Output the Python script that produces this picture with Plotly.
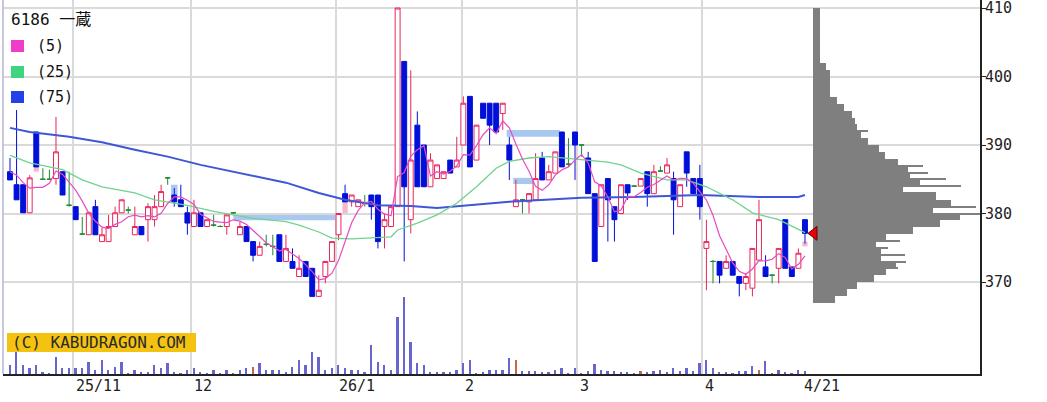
import plotly.graph_objects as go
import pandas as pd

# ---------------- data ----------------
title_text = "6186 一蔵"
ma_labels = ["(5)", "(25)", "(75)"]
tick_labels = ["25/11", "12", "26/1", "2", "3", "4", "4/21"]
tick_pos = [9.6, 27.6, 49.6, 68.8, 86.3, 105.3, 120.4]   # month starts (trading-day index)
price_ticks = [370, 380, 390, 400, 410]

open_ = [386.1, 384.2, 384.2, 380.1, 391.9, 385.0, 385.0, 385.1, 386.1, 381.2,
         381.0, 377.0, 376.9, 381.0, 375.9, 375.9, 378.1, 380.1, 380.5, 376.9,
         378.1, 379.1, 379.1, 381.0, 385.2, 382.7, 382.0, 380.1, 378.1, 380.1,
         378.1, 378.3, 378.1, 378.1, 380.1, 376.9, 378.1, 375.9, 373.9, 375.5,
         375.2, 376.9, 373.0, 373.0, 370.8, 373.0, 372.0, 367.9, 370.8, 373.0,
         376.9, 382.9, 381.7, 381.0, 381.5, 382.7, 382.7, 378.1, 378.1, 381.0,
         402.2, 379.1, 392.9, 390.0, 383.9, 385.1, 385.1, 387.8, 386.8, 390.0,
         397.1, 387.8, 396.1, 396.1, 396.1, 394.6, 390.0, 381.0, 382.0, 381.7,
         382.0, 388.1, 384.9, 385.9, 391.9, 387.2, 391.9, 390.0, 388.1, 382.9,
         378.1, 385.1, 381.0, 380.0, 384.2, 384.0, 384.0, 386.1, 382.9, 386.2,
         385.9, 385.1, 381.0, 389.0, 385.1, 385.1, 374.9, 373.0, 373.0, 372.0,
         373.0, 370.8, 369.8, 369.1, 373.2, 372.2, 371.0, 372.0, 379.1, 372.2,
         372.0, 379.1]
high = [388.1, 395.1, 384.2, 385.6, 391.9, 386.6, 386.4, 394.1, 386.1, 386.1,
        381.0, 379.5, 380.3, 382.0, 377.9, 379.8, 381.0, 382.0, 381.0, 381.0,
        378.1, 381.5, 382.7, 384.2, 385.2, 383.7, 384.2, 381.0, 382.0, 380.1,
        379.1, 379.8, 378.3, 379.8, 380.2, 378.8, 378.1, 375.9, 375.9, 376.9,
        376.9, 376.9, 376.9, 374.9, 373.9, 373.0, 372.0, 371.0, 373.0, 375.9,
        380.0, 384.2, 382.7, 382.0, 382.7, 382.7, 382.7, 380.0, 381.0, 410.0,
        402.2, 400.9, 394.9, 390.0, 388.8, 387.1, 386.1, 387.8, 391.2, 397.1,
        397.1, 392.9, 396.1, 396.1, 396.1, 396.1, 391.2, 384.9, 382.0, 382.9,
        388.8, 389.0, 387.1, 389.0, 391.9, 391.0, 391.9, 390.0, 389.0, 382.9,
        384.2, 385.1, 381.0, 384.2, 384.2, 384.1, 385.1, 386.1, 387.1, 386.9,
        388.1, 386.1, 384.2, 389.0, 385.1, 387.1, 379.1, 373.2, 373.0, 373.9,
        373.0, 370.8, 371.3, 374.9, 382.0, 373.9, 371.0, 374.9, 379.1, 372.2,
        374.9, 379.1]
low = [384.9, 382.0, 380.1, 380.1, 386.8, 384.9, 384.9, 384.2, 382.7, 381.0,
       379.1, 376.9, 376.9, 376.9, 375.9, 375.9, 378.1, 380.1, 380.0, 376.9,
       376.9, 375.9, 378.1, 381.0, 384.2, 381.0, 381.0, 376.9, 378.1, 378.1,
       378.1, 378.1, 378.0, 376.9, 380.0, 376.9, 375.9, 373.0, 373.9, 375.2,
       373.9, 373.0, 373.0, 372.0, 370.8, 370.8, 367.9, 367.9, 369.8, 373.0,
       376.1, 381.7, 381.0, 381.0, 381.0, 379.1, 374.9, 374.9, 378.1, 381.0,
       373.0, 377.1, 383.9, 383.9, 383.9, 385.1, 385.1, 385.9, 386.8, 390.0,
       386.8, 387.8, 393.9, 390.0, 391.9, 392.2, 384.9, 381.0, 380.0, 380.0,
       382.0, 384.9, 384.9, 385.9, 386.8, 386.8, 384.9, 388.3, 382.9, 373.0,
       378.1, 375.9, 375.9, 379.9, 382.0, 383.9, 384.0, 381.0, 382.9, 386.1,
       385.9, 376.9, 381.0, 383.9, 382.9, 379.1, 368.8, 369.8, 369.8, 372.0,
       371.0, 367.9, 368.8, 367.9, 373.2, 370.8, 369.8, 369.8, 372.0, 370.8,
       372.0, 375.6]
close = [384.9, 382.0, 380.1, 385.2, 386.8, 385.0, 385.0, 389.0, 382.7, 381.2,
         379.1, 377.0, 380.1, 376.9, 376.9, 378.1, 380.1, 382.0, 380.5, 378.1,
         376.9, 381.0, 381.0, 383.2, 385.2, 381.7, 381.0, 378.6, 380.1, 378.1,
         379.1, 378.3, 378.1, 379.8, 380.1, 378.1, 375.9, 373.9, 375.2, 375.5,
         375.2, 373.0, 374.9, 372.0, 372.0, 370.8, 367.9, 368.8, 373.0, 375.9,
         380.0, 381.7, 382.7, 382.0, 381.5, 381.0, 375.9, 379.1, 381.0, 410.0,
         383.9, 387.8, 383.9, 383.9, 387.8, 387.1, 386.1, 385.9, 387.8, 396.1,
         386.8, 392.9, 393.9, 392.9, 391.9, 396.1, 387.8, 382.0, 382.0, 382.9,
         385.1, 384.9, 386.1, 389.0, 386.8, 387.2, 390.0, 390.0, 382.9, 373.0,
         384.2, 382.0, 379.1, 384.2, 383.0, 384.0, 385.1, 382.9, 386.1, 386.2,
         387.1, 382.0, 384.2, 385.9, 382.9, 381.0, 375.9, 373.0, 371.0, 373.0,
         371.0, 369.8, 370.8, 374.9, 379.1, 370.8, 371.0, 374.9, 372.0, 370.8,
         374.2, 377.1]
volume = [90, 220, 90, 60, 90, 20, 10, 170, 60, 60,
          60, 60, 120, 40, 140, 40, 70, 120, 10, 40,
          20, 20, 90, 60, 110, 20, 10, 40, 60, 20,
          10, 40, 10, 40, 10, 40, 60, 70, 110, 40,
          40, 40, 20, 70, 140, 90, 220, 170, 40, 60,
          90, 60, 40, 40, 20, 290, 120, 90, 40, 570,
          770, 320, 110, 90, 20, 20, 20, 20, 40, 110,
          140, 10, 20, 40, 40, 40, 160, 140, 30, 30,
          30, 20, 20, 40, 60, 10, 60, 10, 30, 100,
          40, 30, 30, 20, 20, 10, 30, 20, 30, 40,
          20, 60, 30, 60, 30, 110, 140, 60, 20, 20,
          10, 30, 30, 80, 40, 130, 10, 40, 20, 10,
          40, 30]
red_volume_idx = [37, 77, 96, 114]

ma5_head = [386.1, 385.6, 384.5, 383.7]
ma25_idx = [0, 3, 8, 11, 14, 19, 22, 27, 31, 34, 37, 42, 44, 47, 49, 52, 58, 59, 62, 65,
            68, 71, 74, 76, 79, 82, 87, 91, 93, 96, 100, 103, 106, 110, 113, 117, 121]
ma25_val = [388.5, 387.4, 386.4, 384.9, 383.9, 383.0, 382.0, 381.2, 380.3, 379.8, 379.3, 378.8,
            378.3, 377.3, 376.4, 376.3, 376.6, 377.6, 378.6, 379.8, 381.5, 383.9, 386.6, 387.6,
            388.1, 388.3, 387.8, 387.5, 387.1, 385.9, 384.9, 384.9, 383.9, 382.0, 380.1, 379.1, 377.2]
ma75_idx = [0, 3, 9, 14, 19, 24, 29, 34, 38, 42, 47, 51, 56, 61, 65, 69, 76, 87, 95, 105, 114, 120, 121]
ma75_val = [392.5, 391.9, 391.2, 390.4, 389.3, 388.3, 387.1, 386.1, 385.2, 384.5, 383.0, 382.0,
            381.2, 381.1, 380.8, 381.1, 381.7, 382.3, 382.4, 382.7, 382.4, 382.4, 382.7]

# unfilled price gaps ("windows")
gap_x0 = [3.6, 24.5, 34.0, 50.6, 75.6, 76.6, 120.6]
gap_x1 = [4.4, 25.5, 49.5, 51.4, 83.7, 79.6, 121.4]
gap_lo = [386.1, 382.7, 379.0, 380.0, 391.2, 384.3, 375.2]
gap_hi = [386.8, 384.2, 380.0, 381.7, 392.2, 385.2, 375.9]
gap_dir = ["up", "down", "down", "up", "down", "down", "up"]

# volume-at-price profile (1-yen bins, lower bound) and single-price peaks
prof_price = list(range(367, 410))
prof_vol = [217, 340, 440, 607, 727, 830, 683, 683, 633, 727,
            1000, 1267, 1467, 1200, 1380, 1230, 900, 1067, 967, 950,
            850, 723, 657, 550, 483, 440, 417, 390, 307, 240,
            167, 167, 167, 167, 127, 67, 67, 67, 67, 67, 67, 67, 67]
spike_price = [392, 387, 386, 385, 384, 383, 381, 380, 376, 375, 374, 373, 372]
spike_vol = [550, 1100, 1150, 1330, 1480, 1230, 1630, 1670, 870, 750, 920, 930, 850]

# ---------------- geometry helpers ----------------
W, H = 1047, 402
ML, MR, MT, MB = 3, 67, 0, 28
PW, PH = W - ML - MR, H - MT - MB
X0_PX, STEP_PX = 10.0, 6.57
PX_PER_YEN, Y410_PX = 6.85, 8.0
PROFILE_X0_PX = 813
PROFILE_UNITS_PER_PX = 10


def xp(p):
    return (p - ML) / PW


def yp(p):
    return (MT + PH - p) / PH


x_lo = -(X0_PX - ML) / STEP_PX
x_hi = x_lo + PW / STEP_PX
y_hi = 410 + (Y410_PX - MT) / PX_PER_YEN
y_lo = 410 - (MT + PH - Y410_PX) / PX_PER_YEN

N = len(close)
idx = list(range(N))
ma5 = pd.Series(close).rolling(5).mean().tolist()
ma5[:4] = ma5_head

UP_C, DN_C, DJ_C = "#e8265a", "#0010d8", "#1e8a2e"

fig = go.Figure()

# volume (bottom)
vol_colors = ["#c2674a" if i in red_volume_idx else "#6666cc" for i in idx]
fig.add_trace(go.Bar(x=idx, y=volume, width=0.27, marker=dict(color=vol_colors, line=dict(width=0)),
                     xaxis="x", yaxis="y2", hoverinfo="skip"))


def candles(sel, line_c, fill_c):
    st = dict(line=dict(color=line_c, width=1), fillcolor=fill_c)
    return go.Candlestick(x=sel, open=[open_[i] for i in sel], high=[high[i] for i in sel],
                          low=[low[i] for i in sel], close=[close[i] for i in sel],
                          increasing=st, decreasing=st, whiskerwidth=0, hoverinfo="skip",
                          xaxis="x", yaxis="y")


up = [i for i in idx if close[i] > open_[i]]
dn = [i for i in idx if close[i] < open_[i]]
dj = [i for i in idx if close[i] == open_[i]]
fig.add_trace(candles(up, UP_C, "#ffffff"))
fig.add_trace(candles(dn, DN_C, DN_C))
fig.add_trace(candles(dj, DJ_C, DJ_C))

# moving averages
fig.add_trace(go.Scatter(x=ma75_idx, y=ma75_val, mode="lines", line=dict(color="#3f57d6", width=2),
                         hoverinfo="skip"))
fig.add_trace(go.Scatter(x=ma25_idx, y=ma25_val, mode="lines", line=dict(color="#6fd38e", width=1.3),
                         hoverinfo="skip"))
fig.add_trace(go.Scatter(x=idx, y=ma5, mode="lines", line=dict(color="#e64bc3", width=1.2),
                         hoverinfo="skip"))

# volume profile (right) on its own overlaid x axis
fig.add_trace(go.Bar(y=[p + 0.5 for p in prof_price], x=prof_vol, orientation="h", width=1.0,
                     marker=dict(color="#7f7f7f", line=dict(width=0)), xaxis="x2", yaxis="y",
                     hoverinfo="skip"))
fig.add_trace(go.Bar(y=spike_price, x=spike_vol, orientation="h", width=0.2,
                     marker=dict(color="#7f7f7f", line=dict(width=0)), xaxis="x2", yaxis="y",
                     hoverinfo="skip"))
# last price marker (at the profile's left edge)
fig.add_trace(go.Scatter(x=[1 * PROFILE_UNITS_PER_PX], y=[close[-1]], mode="markers", cliponaxis=False,
                         marker=dict(symbol="triangle-left", size=12, color="#e8000b",
                                     line=dict(color="#6a0000", width=1)),
                         xaxis="x2", yaxis="y", hoverinfo="skip"))

shapes = []
for a, b, lo_, hi_, d in zip(gap_x0, gap_x1, gap_lo, gap_hi, gap_dir):
    shapes.append(dict(type="rect", xref="x", yref="y", x0=a, x1=b, y0=lo_, y1=hi_, layer="below",
                       line=dict(width=0),
                       fillcolor="#f6b9cc" if d == "up" else "#a9c8f0"))
# left border
shapes.append(dict(type="line", xref="paper", yref="paper", x0=0, x1=0, y0=0, y1=1,
                   line=dict(color="#b4b4d8", width=1.5)))
# legend background
shapes.append(dict(type="rect", xref="paper", yref="paper", x0=xp(3), x1=xp(79), y0=yp(79), y1=yp(10),
                   fillcolor="white", line=dict(width=0), layer="below"))
leg_cols = ["#ee3ec9", "#3fd57f", "#2440e8"]
leg_y = [46, 72, 97]
for c, yy in zip(leg_cols, leg_y):
    shapes.append(dict(type="rect", xref="paper", yref="paper", x0=xp(11), x1=xp(24),
                       y0=yp(yy + 6), y1=yp(yy - 6), fillcolor=c, line=dict(width=0)))
# watermark box
shapes.append(dict(type="rect", xref="paper", yref="paper", x0=xp(7), x1=xp(196), y0=yp(352), y1=yp(333),
                   fillcolor="#f4c210", line=dict(width=0)))

annotations = []
TXT = "#222222"
MONO = "DejaVu Sans Mono, Noto Sans CJK JP"
for pos, lab in zip(tick_pos, tick_labels):
    annotations.append(dict(x=pos, xref="x", y=yp(386), yref="paper", text=lab, showarrow=False,
                            xanchor="left", yanchor="middle", xshift=1,
                            font=dict(family=MONO, size=15, color=TXT)))
annotations.append(dict(x=xp(9), y=yp(20), xref="paper", yref="paper", text=title_text, showarrow=False,
                        xanchor="left", yanchor="middle", font=dict(family=MONO, size=16, color="#111")))
for lab, yy in zip(ma_labels, leg_y):
    annotations.append(dict(x=xp(35), y=yp(yy), xref="paper", yref="paper", text=lab, showarrow=False,
                            xanchor="left", yanchor="middle", font=dict(family=MONO, size=15, color="#111")))
annotations.append(dict(x=xp(10), y=yp(342.5), xref="paper", yref="paper", text="(C) KABUDRAGON.COM",
                        showarrow=False, xanchor="left", yanchor="middle",
                        font=dict(family="DejaVu Sans Mono", size=16, color="#2a2a2a")))

fig.update_layout(
    width=W, height=H, margin=dict(l=ML, r=MR, t=MT, b=MB, pad=0),
    paper_bgcolor="white", plot_bgcolor="white", showlegend=False, hovermode=False,
    barmode="overlay", bargap=0, boxgap=0.25, boxgroupgap=0,
    xaxis=dict(range=[x_lo, x_hi], anchor="y", tickvals=tick_pos[:6], showticklabels=False, ticks="",
               showgrid=True, gridcolor="#dadada", gridwidth=1.5, zeroline=False, showline=True,
               linecolor="#222", linewidth=2, rangeslider=dict(visible=False), fixedrange=True),
    xaxis2=dict(overlaying="x", anchor="y",
                range=[-(PROFILE_X0_PX - ML) * PROFILE_UNITS_PER_PX,
                       (W - MR - PROFILE_X0_PX) * PROFILE_UNITS_PER_PX],
                visible=False, fixedrange=True),
    yaxis=dict(range=[y_lo, y_hi], side="right", anchor="x", tickvals=price_ticks, ticks="outside",
               ticklen=4, tickwidth=1, tickcolor="#222", showline=True, linecolor="#222", linewidth=2,
               showgrid=True, gridcolor="#dadada", gridwidth=2, zeroline=False, fixedrange=True,
               ticklabeloverflow="allow", ticklabelstandoff=-4,
               tickfont=dict(family="DejaVu Sans Mono", size=15, color=TXT)),
    yaxis2=dict(overlaying="y", anchor="x", range=[0, 770 * PH / 77], visible=False, fixedrange=True),
    shapes=shapes, annotations=annotations,
)

fig.write_html("out.html", config={"displayModeBar": False},
               post_script="document.body.style.margin='0px';document.body.style.padding='0px';")
